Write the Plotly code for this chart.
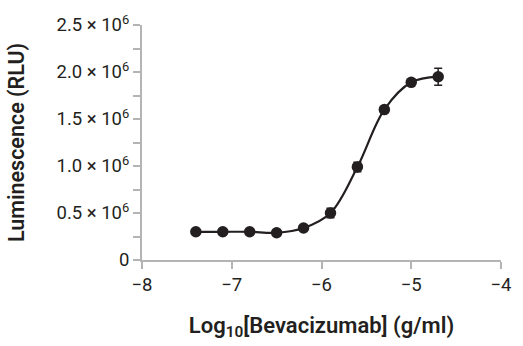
import plotly.graph_objects as go

log_conc = [-7.4, -7.1, -6.8, -6.5, -6.2, -5.9, -5.6, -5.3, -5.0, -4.7]
rlu = [0.30e6, 0.30e6, 0.30e6, 0.29e6, 0.34e6, 0.50e6, 0.99e6, 1.60e6, 1.89e6, 1.95e6]
rlu_err = [0.01e6, 0.01e6, 0.01e6, 0.01e6, 0.015e6, 0.05e6, 0.05e6, 0.02e6, 0.015e6, 0.09e6]

y_tickvals = [0, 0.5e6, 1.0e6, 1.5e6, 2.0e6, 2.5e6]
y_ticktext = ["0", "0.5 × 10<sup>6</sup>", "1.0 × 10<sup>6</sup>", "1.5 × 10<sup>6</sup>",
              "2.0 × 10<sup>6</sup>", "2.5 × 10<sup>6</sup>"]
y_minor = [0.25e6, 0.75e6, 1.25e6, 1.75e6, 2.25e6]
x_tickvals = [-8, -7, -6, -5, -4]

ink = "#231f20"
axis_col = "#b4b4b4"

fig = go.Figure()
fig.add_trace(go.Scatter(
    x=log_conc, y=rlu, mode="lines",
    line=dict(color=ink, width=2.2, shape="spline", smoothing=1.0),
    hoverinfo="skip", showlegend=False))
fig.add_trace(go.Scatter(
    x=log_conc, y=rlu, mode="markers",
    marker=dict(color=ink, size=11.5),
    error_y=dict(type="data", array=rlu_err, color=ink, thickness=1.5, width=4),
    showlegend=False))

fig.update_layout(
    width=523, height=346,
    margin=dict(l=142, r=14, t=17, b=86),
    paper_bgcolor="white", plot_bgcolor="white",
    font=dict(family="Roboto", color=ink, size=18),
)
fig.update_xaxes(
    range=[-8, -4], tickmode="array", tickvals=x_tickvals,
    showgrid=False, zeroline=False,
    showline=True, linecolor=axis_col, linewidth=2,
    ticks="outside", ticklen=7, tickwidth=2, tickcolor=axis_col,
    tickfont=dict(size=18.5),
    title=dict(text="Log<sub>10</sub>[Bevacizumab] (g/ml)",
               font=dict(size=22, weight=600), standoff=22),
)
fig.update_yaxes(
    range=[0, 2.5e6], tickmode="array", tickvals=y_tickvals, ticktext=y_ticktext,
    showgrid=False, zeroline=False,
    showline=True, linecolor=axis_col, linewidth=2,
    ticks="outside", ticklen=7, tickwidth=2, tickcolor=axis_col,
    tickfont=dict(size=18.5),
    minor=dict(tickmode="array", tickvals=y_minor, ticks="outside", ticklen=7,
               tickwidth=2, tickcolor=axis_col, showgrid=False),
    title=dict(text="Luminescence (RLU)", font=dict(size=21.5, weight=600), standoff=26),
)

fig.write_html("out.html")
